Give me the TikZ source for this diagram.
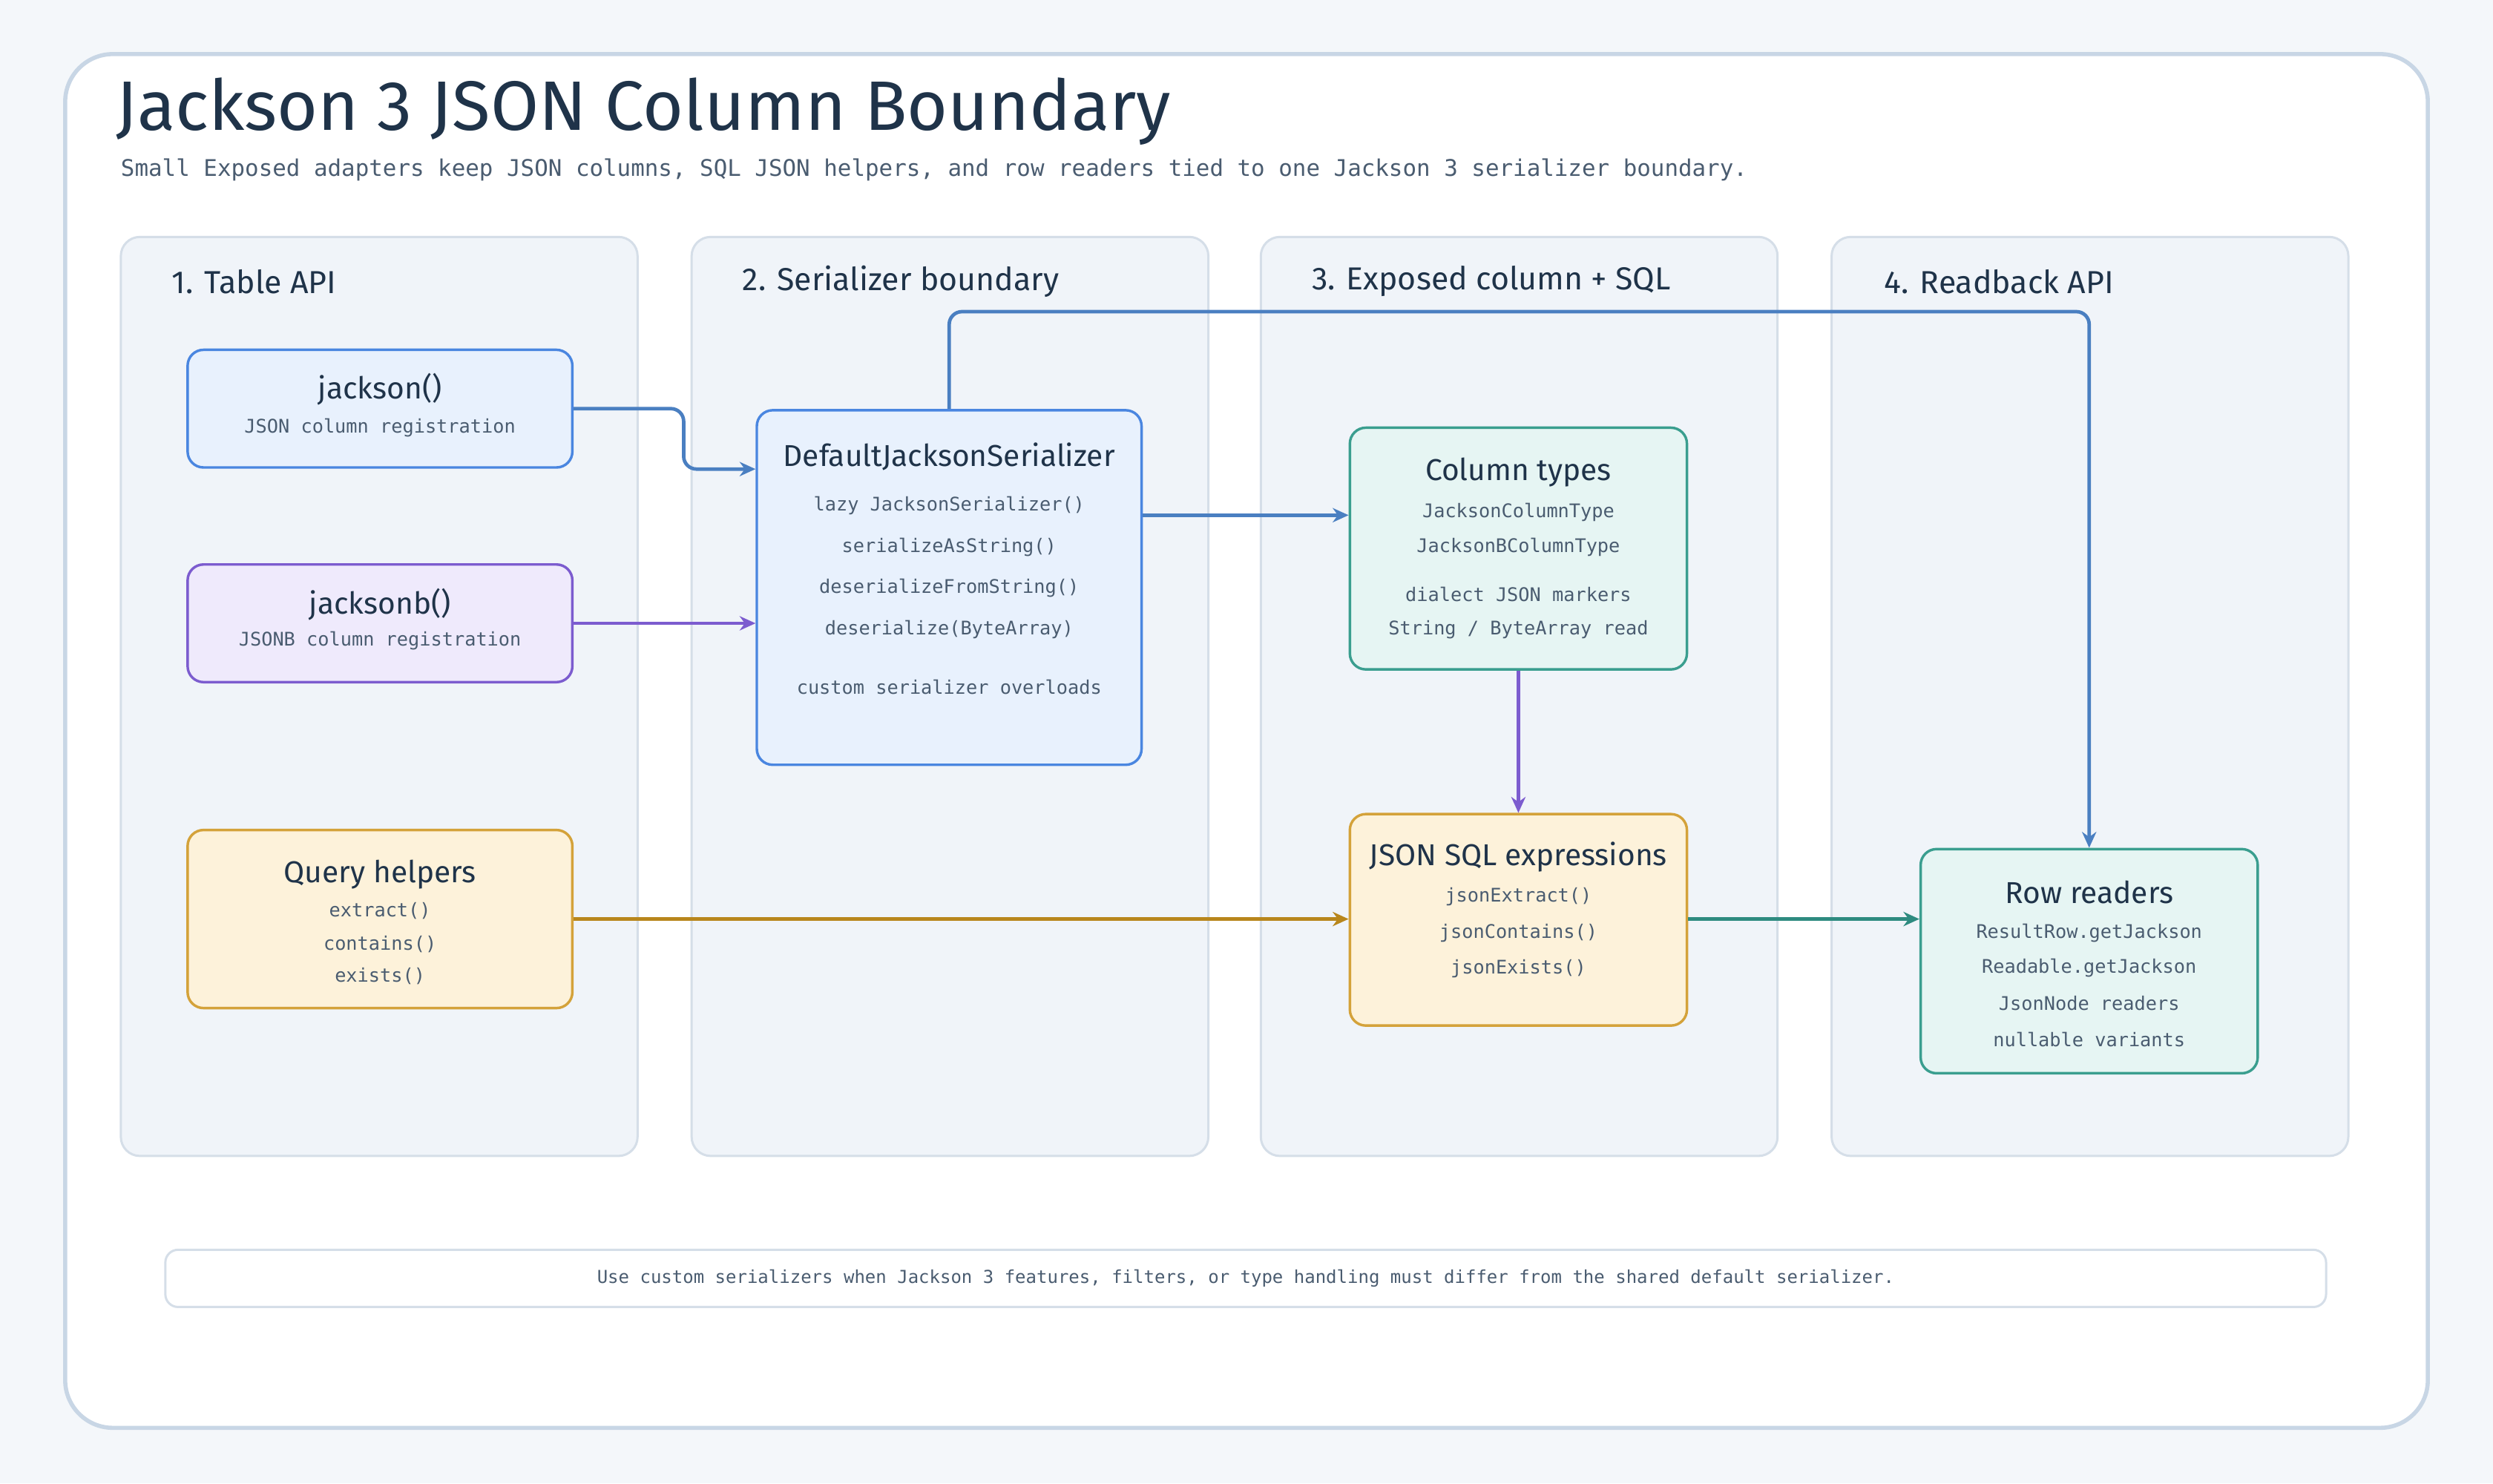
\documentclass[tikz,border=0pt]{standalone}
\usepackage{fontspec}
\setmainfont{Fira Sans}
\newfontfamily\mono{DejaVu Sans Mono}
\usetikzlibrary{arrows.meta}
\definecolor{bg}{HTML}{F4F7FA}
\definecolor{frame}{HTML}{C8D6E5}
\definecolor{lanef}{HTML}{F0F4F9}
\definecolor{lanes}{HTML}{D5DEE8}
\definecolor{ink}{HTML}{1F3349}
\definecolor{sub}{HTML}{4A5C70}
\definecolor{bluef}{HTML}{E8F1FD}\definecolor{blues}{HTML}{4A86E0}\definecolor{bluea}{HTML}{4A7FC1}
\definecolor{purf}{HTML}{EFEAFC}\definecolor{purs}{HTML}{7C5CCF}
\definecolor{yelf}{HTML}{FDF2DA}\definecolor{yels}{HTML}{D4A23A}\definecolor{yela}{HTML}{B8861C}
\definecolor{tealf}{HTML}{E6F5F3}\definecolor{teals}{HTML}{3A9E8F}\definecolor{teala}{HTML}{2E8B80}
\tikzset{
 lane/.style={draw=lanes,fill=lanef,line width=0.7pt,rounded corners=6pt,minimum width=162.5pt,minimum height=289pt,inner sep=0pt},
 lanet/.style={anchor=west,font=\fontsize{10}{12}\selectfont,text=ink},
 box/.style={rounded corners=5pt,line width=0.8pt,inner sep=0pt},
 hd/.style={font=\fontsize{9.5}{11}\selectfont,text=ink},
 sm/.style={font=\mono\fontsize{5.9}{7}\selectfont,text=sub},
 arr/.style={line width=1.1pt,-{Stealth[length=5pt,width=4.5pt]},rounded corners=4pt},
}
\begin{document}
\begin{tikzpicture}[x=0.5pt,y=-0.5pt]
\fill[bg] (0,0) rectangle (1568,933);
\useasboundingbox (0,0) rectangle (1568,933);
\draw[frame,fill=white,line width=1.3pt,rounded corners=15pt] (41,34) rectangle (1527,898);
\node[anchor=west,font=\fontsize{22}{26}\selectfont,text=ink] (title) at (66,70) {Jackson 3 JSON Column Boundary};
\node[anchor=west,font=\mono\fontsize{7.2}{9}\selectfont,text=sub] (subt) at (69,107) {Small Exposed adapters keep JSON columns, SQL JSON helpers, and row readers tied to one Jackson 3 serializer boundary.};
% lanes
\node[lane] (l1) at (238.5,438) {};
\node[lane] (l2) at (597.5,438) {};
\node[lane] (l3) at (955.5,438) {};
\node[lane] (l4) at (1314.5,438) {};
\node[lanet] (t1) at (101,177) {1. Table API};
\node[lanet] (t2) at (460,177) {2. Serializer boundary};
\node[lanet] (t3) at (818,177) {3. Exposed column + SQL};
\node[lanet] (t4) at (1178,177) {4. Readback API};
% nodes
\node[box,draw=blues,fill=bluef,minimum width=121pt,minimum height=37pt] (jk) at (239,257) {};
\node[hd] (jkh) at (239,245) {jackson()};
\node[sm] (jks) at (239,269) {JSON column registration};
\node[box,draw=purs,fill=purf,minimum width=121pt,minimum height=37pt] (jb) at (239,392) {};
\node[hd] (jbh) at (239,380) {jacksonb()};
\node[sm] (jbs) at (239,403) {JSONB column registration};
\node[box,draw=yels,fill=yelf,minimum width=121pt,minimum height=56pt] (qh) at (239,578) {};
\node[hd] (qhh) at (239,550) {Query helpers};
\node[sm] (q1) at (239,573) {extract()};
\node[sm] (q2) at (239,594) {contains()};
\node[sm] (q3) at (239,614) {exists()};
\node[box,draw=blues,fill=bluef,minimum width=121pt,minimum height=111.5pt] (ds) at (597,369.5) {};
\node[hd] (dsh) at (597,287) {DefaultJacksonSerializer};
\node[sm] (d1) at (597,318) {lazy JacksonSerializer()};
\node[sm] (d2) at (597,344) {serializeAsString()};
\node[sm] (d3) at (597,370) {deserializeFromString()};
\node[sm] (d4) at (597,396) {deserialize(ByteArray)};
\node[sm] (d5) at (597,432) {custom serializer overloads};
\node[box,draw=teals,fill=tealf,minimum width=106pt,minimum height=76pt] (ct) at (955,345) {};
\node[hd] (cth) at (955,297) {Column types};
\node[sm] (c1) at (955,322) {JacksonColumnType};
\node[sm] (c2) at (955,344) {JacksonBColumnType};
\node[sm] (c3) at (955,374) {dialect JSON markers};
\node[sm] (c4) at (955,396) {String / ByteArray read};
\node[box,draw=yels,fill=yelf,minimum width=106pt,minimum height=66.5pt] (js) at (955,578.5) {};
\node[hd] (jsh) at (955,539) {JSON SQL expressions};
\node[sm] (j1) at (955,564) {jsonExtract()};
\node[sm] (j2) at (955,587) {jsonContains()};
\node[sm] (j3) at (955,609) {jsonExists()};
\node[box,draw=teals,fill=tealf,minimum width=106pt,minimum height=70.5pt] (rr) at (1314,604.5) {};
\node[hd] (rrh) at (1314,561) {Row readers};
\node[sm] (r1) at (1314,587) {ResultRow.getJackson};
\node[sm] (r2) at (1314,609) {Readable.getJackson};
\node[sm] (r3) at (1314,631) {JsonNode readers};
\node[sm] (r4) at (1314,654) {nullable variants};
% footer
\node[draw=lanes,fill=white,rounded corners=4pt,line width=0.7pt,minimum width=679.5pt,minimum height=18pt] (ft) at (783.5,804) {};
\node[sm,font=\mono\fontsize{5.6}{7}\selectfont] (ftt) at (783.5,804) {Use custom serializers when Jackson 3 features, filters, or type handling must differ from the shared default serializer.};
% connectors
\coordinate (a1) at (430,257);
\draw[arr,bluea] (jk.east) -- (a1) |- (ds.west |- 0,295);
\draw[arr,purs] (jb.east) -- (ds.west |- jb.east);
\draw[arr,bluea] (ds.east |- 0,324) -- (ct.west |- 0,324);
\draw[arr,bluea] (ds.north) |- (rr.north |- 0,196) -- (rr.north);
\draw[arr,purs] (ct.south) -- (js.north);
\draw[arr,yela] (qh.east) -- (js.west |- qh.east);
\draw[arr,teala] (js.east |- 0,578) -- (rr.west |- 0,578);
\end{tikzpicture}
\end{document}
